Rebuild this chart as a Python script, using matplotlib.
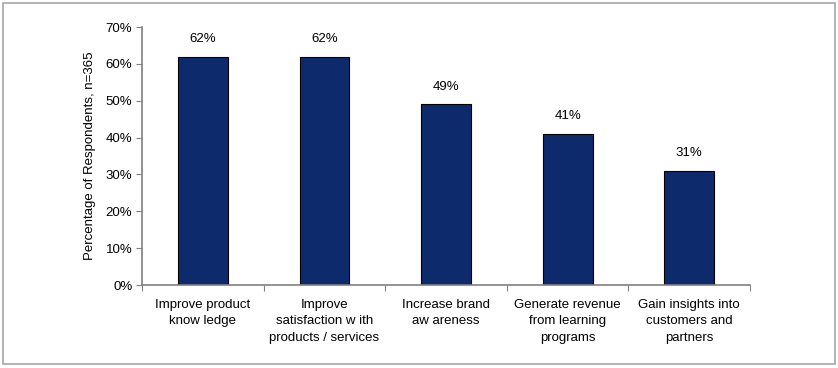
import matplotlib.pyplot as plt
import numpy as np
from matplotlib.patches import Rectangle

# =========================
# Data
# =========================
categories = [
    "Improve product\nknow ledge",
    "Improve\nsatisfaction w ith\nproducts / services",
    "Increase brand\naw areness",
    "Generate revenue\nfrom learning\nprograms",
    "Gain insights into\ncustomers and\npartners",
]
values = [62, 62, 49, 41, 31]
y_ticks = [0, 10, 20, 30, 40, 50, 60, 70]

plt.rcParams['font.family'] = ['Liberation Sans', 'DejaVu Sans']

fig = plt.figure(figsize=(8.38, 3.68), dpi=100)
ax = fig.add_axes([0.1695, 0.2255, 0.7255, 0.701])

# outer frame
fig.patches.append(Rectangle((0.004, 0.01), 0.992, 0.982, transform=fig.transFigure,
                             fill=False, edgecolor="#a6a6a6", linewidth=1.2))

x = np.arange(len(categories))
bars = ax.bar(x, values, width=0.41, color="#0d2a6c", edgecolor="black", linewidth=0.8)

for xi, v in zip(x, values):
    ax.text(xi, v + 3.2, f"{v}%", ha="center", va="bottom", fontsize=9.5)

ax.set_xlim(-0.5, len(categories) - 0.5)
ax.set_ylim(0, 70)
ax.set_yticks(y_ticks)
ax.set_yticklabels([f"{t}%" for t in y_ticks], fontsize=9.5)

# ticks at category boundaries
ax.set_xticks(np.arange(-0.5, len(categories) + 0.5, 1))
ax.set_xticklabels([])
ax.set_xticks(x, minor=True)
ax.set_xticklabels(categories, minor=True, fontsize=9.5, linespacing=1.5)
ax.tick_params(axis="x", which="minor", length=0, pad=10)
ax.tick_params(axis="x", which="major", length=4, color="#808080", direction="out")
ax.tick_params(axis="y", length=4, color="#808080", direction="out", pad=3)

for s in ["top", "right"]:
    ax.spines[s].set_visible(False)
for s in ["left", "bottom"]:
    ax.spines[s].set_color("#808080")
    ax.spines[s].set_linewidth(1.2)

ax.set_ylabel("Percentage of Respondents, n=365", fontsize=9.5, labelpad=7)

fig.savefig("out.png", dpi=100)
